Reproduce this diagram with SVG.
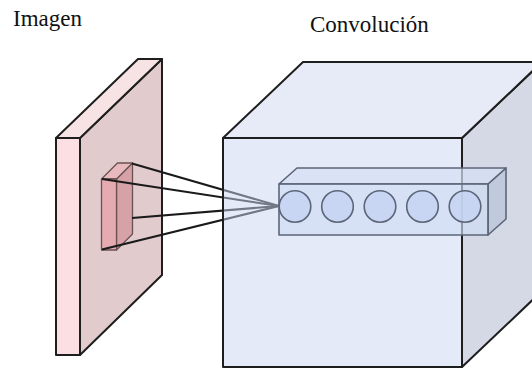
<svg xmlns="http://www.w3.org/2000/svg" width="532" height="368" viewBox="0 0 532 368">
<style>
.lbl{font-family:"Liberation Serif","Times New Roman",serif;font-size:23px;fill:#111}
.edge{stroke:#1e1e1e;stroke-width:2;stroke-linejoin:round}
.fedge{stroke:#6a5254;stroke-width:1.3;stroke-linejoin:round}
.conn{stroke:#1a1a1a;stroke-width:2;fill:none}
.redge{stroke:#5c6678;stroke-width:1.6;stroke-linejoin:round}
</style>
<rect width="532" height="368" fill="#ffffff"/>
<text class="lbl" x="13" y="26">Imagen</text>
<text class="lbl" x="310" y="32">Convolución</text>

<g id="imagen">
  <polygon class="edge" points="80,138 162,59 162,275 80,355" fill="#e1cbcc"/>
  <polygon class="edge" points="56,138 138,59 162,59 80,138" fill="#f7e3e4"/>
  <rect class="edge" x="56" y="138" width="24" height="217" fill="#fbdfe2"/>
</g>

<g id="filtro">
  <polygon class="fedge" points="116.5,179 132.5,163 132.5,234 116.5,250" fill="#d7a2a7"/>
  <polygon class="fedge" points="101.5,179 117.5,163 132.5,163 116.5,179" fill="#e9babd"/>
  <rect class="fedge" x="101.5" y="179" width="15" height="71" fill="#e6abb0"/>
</g>

<g id="conectores">
  <line class="conn" x1="132" y1="163.5" x2="279" y2="206"/>
  <line class="conn" x1="102" y1="179" x2="279" y2="206"/>
  <line class="conn" x1="132" y1="218" x2="279" y2="206"/>
  <line class="conn" x1="102" y1="249.5" x2="279" y2="206"/>
</g>

<g id="convolucion">
  <polygon class="edge" points="462,138 542,62 542,291 462,367" fill="#d4d9e5"/>
  <polygon class="edge" points="223,138 303,62 542,62 462,138" fill="#e7ebf7"/>
  <rect x="223" y="138" width="239" height="229" fill="#c9d5f1" fill-opacity="0.5"/>
  <rect class="edge" x="223" y="138" width="239" height="229" fill="none"/>
</g>

<g id="fila">
  <polygon class="redge" points="488,184 506,168 506,219 488,235" fill="#b9c3d8" fill-opacity="0.7"/>
  <polygon class="redge" points="279,184 297,168 506,168 488,184" fill="#d6dff3" fill-opacity="0.7"/>
  <rect class="redge" x="279" y="184" width="209" height="51" fill="#d0dbf4" fill-opacity="0.65"/>
  <g fill="#c6d4f3" fill-opacity="0.85" class="redge">
    <circle cx="295" cy="206.5" r="15.8"/>
    <circle cx="337.5" cy="206.5" r="15.8"/>
    <circle cx="380" cy="206.5" r="15.8"/>
    <circle cx="422.5" cy="206.5" r="15.8"/>
    <circle cx="465" cy="206.5" r="15.8"/>
  </g>
</g>
</svg>
